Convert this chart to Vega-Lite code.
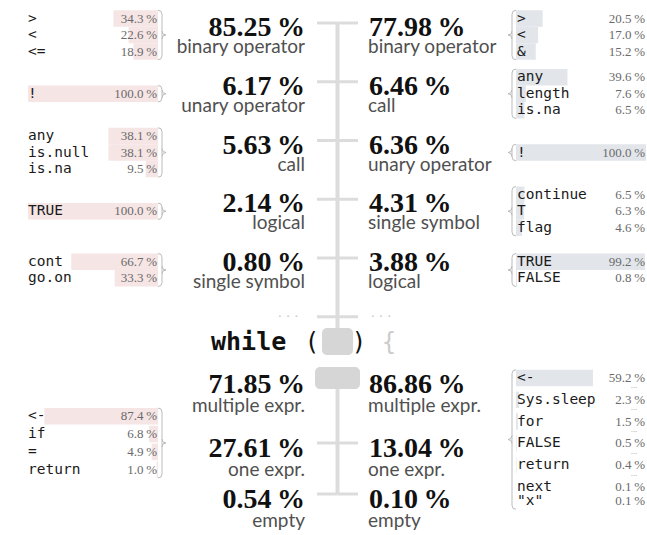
{
  "$schema": "https://vega.github.io/schema/vega-lite/v6.json",
  "width": 647,
  "height": 535,
  "padding": 0,
  "autosize": {"type": "fit", "contains": "padding"},
  "background": "white",
  "config": {"view": {"stroke": null}},
  "data": {
    "values": [
      {"kind": "category", "section": "condition", "side": "left", "rank": 1, "label": "binary operator", "pct": 85.25},
      {"kind": "category", "section": "condition", "side": "left", "rank": 2, "label": "unary operator", "pct": 6.17},
      {"kind": "category", "section": "condition", "side": "left", "rank": 3, "label": "call", "pct": 5.63},
      {"kind": "category", "section": "condition", "side": "left", "rank": 4, "label": "logical", "pct": 2.14},
      {"kind": "category", "section": "condition", "side": "left", "rank": 5, "label": "single symbol", "pct": 0.80},
      {"kind": "category", "section": "condition", "side": "right", "rank": 1, "label": "binary operator", "pct": 77.98},
      {"kind": "category", "section": "condition", "side": "right", "rank": 2, "label": "call", "pct": 6.46},
      {"kind": "category", "section": "condition", "side": "right", "rank": 3, "label": "unary operator", "pct": 6.36},
      {"kind": "category", "section": "condition", "side": "right", "rank": 4, "label": "single symbol", "pct": 4.31},
      {"kind": "category", "section": "condition", "side": "right", "rank": 5, "label": "logical", "pct": 3.88},
      {"kind": "category", "section": "body", "side": "left", "rank": 1, "label": "multiple expr.", "pct": 71.85},
      {"kind": "category", "section": "body", "side": "left", "rank": 2, "label": "one expr.", "pct": 27.61},
      {"kind": "category", "section": "body", "side": "left", "rank": 3, "label": "empty", "pct": 0.54},
      {"kind": "category", "section": "body", "side": "right", "rank": 1, "label": "multiple expr.", "pct": 86.86},
      {"kind": "category", "section": "body", "side": "right", "rank": 2, "label": "one expr.", "pct": 13.04},
      {"kind": "category", "section": "body", "side": "right", "rank": 3, "label": "empty", "pct": 0.10},

      {"kind": "token", "section": "condition", "side": "left", "rank": 1, "item": 1, "label": ">", "pct": 34.3},
      {"kind": "token", "section": "condition", "side": "left", "rank": 1, "item": 2, "label": "<", "pct": 22.6},
      {"kind": "token", "section": "condition", "side": "left", "rank": 1, "item": 3, "label": "<=", "pct": 18.9},
      {"kind": "token", "section": "condition", "side": "left", "rank": 2, "item": 1, "label": "!", "pct": 100.0},
      {"kind": "token", "section": "condition", "side": "left", "rank": 3, "item": 1, "label": "any", "pct": 38.1},
      {"kind": "token", "section": "condition", "side": "left", "rank": 3, "item": 2, "label": "is.null", "pct": 38.1},
      {"kind": "token", "section": "condition", "side": "left", "rank": 3, "item": 3, "label": "is.na", "pct": 9.5},
      {"kind": "token", "section": "condition", "side": "left", "rank": 4, "item": 1, "label": "TRUE", "pct": 100.0},
      {"kind": "token", "section": "condition", "side": "left", "rank": 5, "item": 1, "label": "cont", "pct": 66.7},
      {"kind": "token", "section": "condition", "side": "left", "rank": 5, "item": 2, "label": "go.on", "pct": 33.3},

      {"kind": "token", "section": "condition", "side": "right", "rank": 1, "item": 1, "label": ">", "pct": 20.5},
      {"kind": "token", "section": "condition", "side": "right", "rank": 1, "item": 2, "label": "<", "pct": 17.0},
      {"kind": "token", "section": "condition", "side": "right", "rank": 1, "item": 3, "label": "&", "pct": 15.2},
      {"kind": "token", "section": "condition", "side": "right", "rank": 2, "item": 1, "label": "any", "pct": 39.6},
      {"kind": "token", "section": "condition", "side": "right", "rank": 2, "item": 2, "label": "length", "pct": 7.6},
      {"kind": "token", "section": "condition", "side": "right", "rank": 2, "item": 3, "label": "is.na", "pct": 6.5},
      {"kind": "token", "section": "condition", "side": "right", "rank": 3, "item": 1, "label": "!", "pct": 100.0},
      {"kind": "token", "section": "condition", "side": "right", "rank": 4, "item": 1, "label": "continue", "pct": 6.5},
      {"kind": "token", "section": "condition", "side": "right", "rank": 4, "item": 2, "label": "T", "pct": 6.3},
      {"kind": "token", "section": "condition", "side": "right", "rank": 4, "item": 3, "label": "flag", "pct": 4.6},
      {"kind": "token", "section": "condition", "side": "right", "rank": 5, "item": 1, "label": "TRUE", "pct": 99.2},
      {"kind": "token", "section": "condition", "side": "right", "rank": 5, "item": 2, "label": "FALSE", "pct": 0.8},

      {"kind": "token", "section": "body", "side": "left", "rank": 2, "item": 1, "label": "<-", "pct": 87.4},
      {"kind": "token", "section": "body", "side": "left", "rank": 2, "item": 2, "label": "if", "pct": 6.8},
      {"kind": "token", "section": "body", "side": "left", "rank": 2, "item": 3, "label": "=", "pct": 4.9},
      {"kind": "token", "section": "body", "side": "left", "rank": 2, "item": 4, "label": "return", "pct": 1.0},

      {"kind": "token", "section": "body", "side": "right", "rank": 1, "item": 1, "label": "<-", "pct": 59.2, "gapBefore": false},
      {"kind": "token", "section": "body", "side": "right", "rank": 1, "item": 2, "label": "Sys.sleep", "pct": 2.3, "gapBefore": true},
      {"kind": "token", "section": "body", "side": "right", "rank": 1, "item": 3, "label": "for", "pct": 1.5, "gapBefore": true},
      {"kind": "token", "section": "body", "side": "right", "rank": 1, "item": 4, "label": "FALSE", "pct": 0.5, "gapBefore": true},
      {"kind": "token", "section": "body", "side": "right", "rank": 1, "item": 5, "label": "return", "pct": 0.4, "gapBefore": true},
      {"kind": "token", "section": "body", "side": "right", "rank": 1, "item": 6, "label": "next", "pct": 0.1, "gapBefore": true},
      {"kind": "token", "section": "body", "side": "right", "rank": 1, "item": 7, "label": "\"x\"", "pct": 0.1, "gapBefore": false}
    ]
  },
  "transform": [
    {"calculate": "datum.section == 'condition' ? 36 + (datum.rank - 1) * 58.75 : (datum.rank == 1 ? 393 : datum.rank == 2 ? 457 : 508)", "as": "base"},
    {"calculate": "datum.item == 1 ? 0 : datum.section == 'condition' ? 16.5 : datum.side == 'left' ? 17.8 : (datum.gapBefore ? 21.8 : 14)", "as": "step"},
    {"window": [{"op": "sum", "field": "step", "as": "cum"}], "groupby": ["kind", "section", "side", "rank"], "sort": [{"field": "item", "order": "ascending"}], "frame": [null, 0]},
    {"joinaggregate": [{"op": "sum", "field": "step", "as": "tot"}], "groupby": ["kind", "section", "side", "rank"]},
    {"calculate": "(datum.section == 'condition' ? datum.base - 1 : datum.side == 'left' ? datum.base - 14 : datum.base + 46.5) - datum.tot / 2 + datum.cum", "as": "itemY"},
    {"calculate": "datum.base - (datum.section == 'condition' ? 13 : 14)", "as": "tickY"},
    {"calculate": "datum.base + (datum.section == 'condition' ? 17 : 19)", "as": "labY"},
    {"calculate": "datum.itemY - 8.25", "as": "barY0"},
    {"calculate": "datum.itemY + 8.25", "as": "barY1"},
    {"calculate": "datum.itemY - 11.5", "as": "dotY"},
    {"calculate": "datum.side == 'left' ? 158 - datum.pct * 1.3 : 516", "as": "bx0"},
    {"calculate": "datum.side == 'left' ? 158 : 516 + datum.pct * 1.3", "as": "bx1"},
    {"calculate": "datum.kind == 'category' ? format(datum.pct, '.2f') + '\u2009%' : format(datum.pct, '.1f') + '\u2009%'", "as": "pctText"}
  ],
  "layer": [
    {
      "transform": [{"filter": "datum.kind == 'category' && datum.section == 'condition'"}, {"aggregate": [{"op": "min", "field": "tickY", "as": "y0"}]}],
      "mark": {"type": "rule", "color": "#dcdcdc", "strokeWidth": 4},
      "encoding": {
        "x": {"datum": 337.5, "type": "quantitative", "scale": {"domain": [0, 647], "nice": false, "zero": false}, "axis": null},
        "y": {"field": "y0", "type": "quantitative", "scale": {"domain": [0, 535], "nice": false, "zero": false, "reverse": true}, "axis": null},
        "y2": {"datum": 328}
      }
    },
    {
      "transform": [{"filter": "datum.kind == 'category' && datum.section == 'body'"}, {"aggregate": [{"op": "max", "field": "tickY", "as": "y1"}]}],
      "mark": {"type": "rule", "color": "#dcdcdc", "strokeWidth": 4},
      "encoding": {
        "x": {"datum": 337.5, "type": "quantitative", "scale": {"domain": [0, 647], "nice": false, "zero": false}, "axis": null},
        "y": {"field": "y1", "type": "quantitative", "scale": {"domain": [0, 535], "nice": false, "zero": false, "reverse": true}, "axis": null},
        "y2": {"datum": 389}
      }
    },
    {
      "transform": [{"filter": "datum.kind == 'category'"}, {"calculate": "datum.side == 'left' ? 317 : 358", "as": "tx2"}],
      "mark": {"type": "rule", "color": "#dcdcdc", "strokeWidth": 3},
      "encoding": {
        "x": {"field": "tx2", "type": "quantitative", "scale": {"domain": [0, 647], "nice": false, "zero": false}, "axis": null},
        "x2": {"datum": 337.5},
        "y": {"field": "tickY", "type": "quantitative", "scale": {"domain": [0, 535], "nice": false, "zero": false, "reverse": true}, "axis": null}
      }
    },
    {
      "transform": [{"filter": "datum.kind == 'category' && datum.section == 'condition'"}, {"aggregate": [{"op": "max", "field": "tickY", "as": "m"}]}, {"calculate": "datum.m + 58.75", "as": "dy"}],
      "mark": {"type": "rule", "color": "#dcdcdc", "strokeWidth": 3},
      "encoding": {
        "x": {"datum": 317, "type": "quantitative", "scale": {"domain": [0, 647], "nice": false, "zero": false}, "axis": null},
        "x2": {"datum": 358},
        "y": {"field": "dy", "type": "quantitative", "scale": {"domain": [0, 535], "nice": false, "zero": false, "reverse": true}, "axis": null}
      }
    },
    {
      "transform": [{"filter": "datum.kind == 'category' && datum.section == 'condition'"}, {"aggregate": [{"op": "max", "field": "tickY", "as": "m"}]}, {"calculate": "datum.m + 58.75", "as": "dy"}],
      "mark": {"type": "text", "text": "· · ·", "font": "DejaVu Sans", "fontSize": 13, "color": "#c4c4c4", "align": "center", "baseline": "middle"},
      "encoding": {
        "x": {"datum": 288, "type": "quantitative", "scale": {"domain": [0, 647], "nice": false, "zero": false}, "axis": null},
        "y": {"field": "dy", "type": "quantitative", "scale": {"domain": [0, 535], "nice": false, "zero": false, "reverse": true}, "axis": null}
      }
    },
    {
      "transform": [{"filter": "datum.kind == 'category' && datum.section == 'condition'"}, {"aggregate": [{"op": "max", "field": "tickY", "as": "m"}]}, {"calculate": "datum.m + 58.75", "as": "dy"}],
      "mark": {"type": "text", "text": "· · ·", "font": "DejaVu Sans", "fontSize": 13, "color": "#c4c4c4", "align": "center", "baseline": "middle"},
      "encoding": {
        "x": {"datum": 381, "type": "quantitative", "scale": {"domain": [0, 647], "nice": false, "zero": false}, "axis": null},
        "y": {"field": "dy", "type": "quantitative", "scale": {"domain": [0, 535], "nice": false, "zero": false, "reverse": true}, "axis": null}
      }
    },
    {
      "transform": [{"aggregate": [{"op": "count", "as": "n"}]}],
      "mark": {"type": "rect", "color": "#d6d6d6", "cornerRadius": 5},
      "encoding": {
        "x": {"datum": 322, "type": "quantitative", "scale": {"domain": [0, 647], "nice": false, "zero": false}, "axis": null},
        "x2": {"datum": 353},
        "y": {"datum": 328, "type": "quantitative", "scale": {"domain": [0, 535], "nice": false, "zero": false, "reverse": true}, "axis": null},
        "y2": {"datum": 355}
      }
    },
    {
      "transform": [{"aggregate": [{"op": "count", "as": "n"}]}],
      "mark": {"type": "rect", "color": "#d6d6d6", "cornerRadius": 5},
      "encoding": {
        "x": {"datum": 315, "type": "quantitative", "scale": {"domain": [0, 647], "nice": false, "zero": false}, "axis": null},
        "x2": {"datum": 360},
        "y": {"datum": 367, "type": "quantitative", "scale": {"domain": [0, 535], "nice": false, "zero": false, "reverse": true}, "axis": null},
        "y2": {"datum": 389}
      }
    },
    {
      "transform": [{"aggregate": [{"op": "count", "as": "n"}]}],
      "mark": {"type": "text", "text": "while", "font": "DejaVu Sans Mono", "fontWeight": "bold", "fontSize": 25, "color": "#111111", "align": "left", "baseline": "alphabetic"},
      "encoding": {
        "x": {"datum": 211, "type": "quantitative", "scale": {"domain": [0, 647], "nice": false, "zero": false}, "axis": null},
        "y": {"datum": 350, "type": "quantitative", "scale": {"domain": [0, 535], "nice": false, "zero": false, "reverse": true}, "axis": null}
      }
    },
    {
      "transform": [{"aggregate": [{"op": "count", "as": "n"}]}],
      "mark": {"type": "text", "text": "(", "font": "DejaVu Sans Mono", "fontSize": 24, "color": "#111111", "align": "center", "baseline": "alphabetic"},
      "encoding": {
        "x": {"datum": 312, "type": "quantitative", "scale": {"domain": [0, 647], "nice": false, "zero": false}, "axis": null},
        "y": {"datum": 350, "type": "quantitative", "scale": {"domain": [0, 535], "nice": false, "zero": false, "reverse": true}, "axis": null}
      }
    },
    {
      "transform": [{"aggregate": [{"op": "count", "as": "n"}]}],
      "mark": {"type": "text", "text": ")", "font": "DejaVu Sans Mono", "fontSize": 24, "color": "#111111", "align": "center", "baseline": "alphabetic"},
      "encoding": {
        "x": {"datum": 359, "type": "quantitative", "scale": {"domain": [0, 647], "nice": false, "zero": false}, "axis": null},
        "y": {"datum": 350, "type": "quantitative", "scale": {"domain": [0, 535], "nice": false, "zero": false, "reverse": true}, "axis": null}
      }
    },
    {
      "transform": [{"aggregate": [{"op": "count", "as": "n"}]}],
      "mark": {"type": "text", "text": "{", "font": "DejaVu Sans Mono", "fontSize": 24, "color": "#cccccc", "align": "center", "baseline": "alphabetic"},
      "encoding": {
        "x": {"datum": 389, "type": "quantitative", "scale": {"domain": [0, 647], "nice": false, "zero": false}, "axis": null},
        "y": {"datum": 350, "type": "quantitative", "scale": {"domain": [0, 535], "nice": false, "zero": false, "reverse": true}, "axis": null}
      }
    },
    {
      "transform": [{"filter": "datum.kind == 'token' && datum.side == 'left'"}],
      "mark": {"type": "rect", "color": "#f6e5e5"},
      "encoding": {
        "x": {"field": "bx0", "type": "quantitative", "scale": {"domain": [0, 647], "nice": false, "zero": false}, "axis": null},
        "x2": {"field": "bx1"},
        "y": {"field": "barY0", "type": "quantitative", "scale": {"domain": [0, 535], "nice": false, "zero": false, "reverse": true}, "axis": null},
        "y2": {"field": "barY1"}
      }
    },
    {
      "transform": [{"filter": "datum.kind == 'token' && datum.side == 'right'"}],
      "mark": {"type": "rect", "color": "#e2e6ea"},
      "encoding": {
        "x": {"field": "bx0", "type": "quantitative", "scale": {"domain": [0, 647], "nice": false, "zero": false}, "axis": null},
        "x2": {"field": "bx1"},
        "y": {"field": "barY0", "type": "quantitative", "scale": {"domain": [0, 535], "nice": false, "zero": false, "reverse": true}, "axis": null},
        "y2": {"field": "barY1"}
      }
    },
    {
      "transform": [{"filter": "datum.kind == 'token' && datum.side == 'left'"}],
      "mark": {"type": "text", "font": "DejaVu Sans Mono", "fontSize": 14.5, "color": "#1a1a1a", "align": "left", "baseline": "middle"},
      "encoding": {
        "x": {"datum": 28, "type": "quantitative", "scale": {"domain": [0, 647], "nice": false, "zero": false}, "axis": null},
        "y": {"field": "itemY", "type": "quantitative", "scale": {"domain": [0, 535], "nice": false, "zero": false, "reverse": true}, "axis": null},
        "text": {"field": "label", "type": "nominal"}
      }
    },
    {
      "transform": [{"filter": "datum.kind == 'token' && datum.side == 'right'"}],
      "mark": {"type": "text", "font": "DejaVu Sans Mono", "fontSize": 14.5, "color": "#1a1a1a", "align": "left", "baseline": "middle"},
      "encoding": {
        "x": {"datum": 517, "type": "quantitative", "scale": {"domain": [0, 647], "nice": false, "zero": false}, "axis": null},
        "y": {"field": "itemY", "type": "quantitative", "scale": {"domain": [0, 535], "nice": false, "zero": false, "reverse": true}, "axis": null},
        "text": {"field": "label", "type": "nominal"}
      }
    },
    {
      "transform": [{"filter": "datum.kind == 'token' && datum.side == 'left'"}],
      "mark": {"type": "text", "font": "Liberation Serif", "fontSize": 13, "color": "#6a6a6a", "align": "right", "baseline": "middle"},
      "encoding": {
        "x": {"datum": 157, "type": "quantitative", "scale": {"domain": [0, 647], "nice": false, "zero": false}, "axis": null},
        "y": {"field": "itemY", "type": "quantitative", "scale": {"domain": [0, 535], "nice": false, "zero": false, "reverse": true}, "axis": null},
        "text": {"field": "pctText", "type": "nominal"}
      }
    },
    {
      "transform": [{"filter": "datum.kind == 'token' && datum.side == 'right'"}],
      "mark": {"type": "text", "font": "Liberation Serif", "fontSize": 13, "color": "#6a6a6a", "align": "right", "baseline": "middle"},
      "encoding": {
        "x": {"datum": 645, "type": "quantitative", "scale": {"domain": [0, 647], "nice": false, "zero": false}, "axis": null},
        "y": {"field": "itemY", "type": "quantitative", "scale": {"domain": [0, 535], "nice": false, "zero": false, "reverse": true}, "axis": null},
        "text": {"field": "pctText", "type": "nominal"}
      }
    },
    {
      "transform": [{"filter": "datum.kind == 'token' && datum.gapBefore"}],
      "mark": {"type": "text", "text": "···", "font": "DejaVu Sans", "fontSize": 7, "color": "#9a9a9a", "align": "center", "baseline": "middle"},
      "encoding": {
        "x": {"datum": 634, "type": "quantitative", "scale": {"domain": [0, 647], "nice": false, "zero": false}, "axis": null},
        "y": {"field": "dotY", "type": "quantitative", "scale": {"domain": [0, 535], "nice": false, "zero": false, "reverse": true}, "axis": null}
      }
    },
    {
      "transform": [{"filter": "datum.kind == 'category' && datum.side == 'left'"}],
      "mark": {"type": "text", "font": "Liberation Serif", "fontWeight": "bold", "fontSize": 28, "color": "#111111", "align": "right", "baseline": "alphabetic"},
      "encoding": {
        "x": {"datum": 305, "type": "quantitative", "scale": {"domain": [0, 647], "nice": false, "zero": false}, "axis": null},
        "y": {"field": "base", "type": "quantitative", "scale": {"domain": [0, 535], "nice": false, "zero": false, "reverse": true}, "axis": null},
        "text": {"field": "pctText", "type": "nominal"}
      }
    },
    {
      "transform": [{"filter": "datum.kind == 'category' && datum.side == 'right'"}],
      "mark": {"type": "text", "font": "Liberation Serif", "fontWeight": "bold", "fontSize": 28, "color": "#111111", "align": "left", "baseline": "alphabetic"},
      "encoding": {
        "x": {"datum": 369, "type": "quantitative", "scale": {"domain": [0, 647], "nice": false, "zero": false}, "axis": null},
        "y": {"field": "base", "type": "quantitative", "scale": {"domain": [0, 535], "nice": false, "zero": false, "reverse": true}, "axis": null},
        "text": {"field": "pctText", "type": "nominal"}
      }
    },
    {
      "transform": [{"filter": "datum.kind == 'category' && datum.side == 'left'"}],
      "mark": {"type": "text", "font": "Lato", "fontSize": 19, "color": "#505050", "align": "right", "baseline": "alphabetic"},
      "encoding": {
        "x": {"datum": 305, "type": "quantitative", "scale": {"domain": [0, 647], "nice": false, "zero": false}, "axis": null},
        "y": {"field": "labY", "type": "quantitative", "scale": {"domain": [0, 535], "nice": false, "zero": false, "reverse": true}, "axis": null},
        "text": {"field": "label", "type": "nominal"}
      }
    },
    {
      "transform": [{"filter": "datum.kind == 'category' && datum.side == 'right'"}],
      "mark": {"type": "text", "font": "Lato", "fontSize": 19, "color": "#505050", "align": "left", "baseline": "alphabetic"},
      "encoding": {
        "x": {"datum": 368, "type": "quantitative", "scale": {"domain": [0, 647], "nice": false, "zero": false}, "axis": null},
        "y": {"field": "labY", "type": "quantitative", "scale": {"domain": [0, 535], "nice": false, "zero": false, "reverse": true}, "axis": null},
        "text": {"field": "label", "type": "nominal"}
      }
    },
    {
      "transform": [{"filter": "datum.kind == 'token' && datum.side == 'left'"}, {"aggregate": [{"op": "min", "field": "itemY", "as": "lo"}, {"op": "max", "field": "itemY", "as": "hi"}], "groupby": ["section", "rank"]}, {"calculate": "datum.lo - 4.25", "as": "r0"}, {"calculate": "datum.hi + 4.25", "as": "r1"}],
      "mark": {"type": "rule", "color": "#bbbbbb", "strokeWidth": 1},
      "encoding": {
        "x": {"datum": 162, "type": "quantitative", "scale": {"domain": [0, 647], "nice": false, "zero": false}, "axis": null},
        "y": {"field": "r0", "type": "quantitative", "scale": {"domain": [0, 535], "nice": false, "zero": false, "reverse": true}, "axis": null},
        "y2": {"field": "r1"}
      }
    },
    {
      "transform": [{"filter": "datum.kind == 'token' && datum.side == 'right'"}, {"aggregate": [{"op": "min", "field": "itemY", "as": "lo"}, {"op": "max", "field": "itemY", "as": "hi"}], "groupby": ["section", "rank"]}, {"calculate": "datum.lo - 4.25", "as": "r0"}, {"calculate": "datum.hi + 4.25", "as": "r1"}],
      "mark": {"type": "rule", "color": "#bbbbbb", "strokeWidth": 1},
      "encoding": {
        "x": {"datum": 512, "type": "quantitative", "scale": {"domain": [0, 647], "nice": false, "zero": false}, "axis": null},
        "y": {"field": "r0", "type": "quantitative", "scale": {"domain": [0, 535], "nice": false, "zero": false, "reverse": true}, "axis": null},
        "y2": {"field": "r1"}
      }
    },
    {
      "transform": [{"filter": "datum.kind == 'token' && datum.side == 'left'"}, {"aggregate": [{"op": "min", "field": "itemY", "as": "lo"}, {"op": "max", "field": "itemY", "as": "hi"}], "groupby": ["section", "rank"]}, {"calculate": "datum.lo - 8.25", "as": "lt"}, {"calculate": "(datum.lo + datum.hi) / 2", "as": "lm"}, {"calculate": "datum.hi + 8.25", "as": "lb"}, {"fold": ["lt", "lm", "lb"], "as": ["part", "py"]}],
      "mark": {"type": "point", "filled": false, "size": 4, "color": "#bbbbbb", "strokeWidth": 1, "opacity": 1},
      "encoding": {
        "x": {"datum": 162, "type": "quantitative", "scale": {"domain": [0, 647], "nice": false, "zero": false}, "axis": null},
        "y": {"field": "py", "type": "quantitative", "scale": {"domain": [0, 535], "nice": false, "zero": false, "reverse": true}, "axis": null},
        "shape": {"field": "part", "type": "nominal", "legend": null, "scale": {"domain": ["lt", "lm", "lb", "rt", "rm", "rb"], "range": ["M -4 0 Q 0 0 0 4", "M 0 -4 Q 0 0 4 0 Q 0 0 0 4", "M -4 0 Q 0 0 0 -4", "M 4 0 Q 0 0 0 4", "M 0 -4 Q 0 0 -4 0 Q 0 0 0 4", "M 4 0 Q 0 0 0 -4"]}}
      }
    },
    {
      "transform": [{"filter": "datum.kind == 'token' && datum.side == 'right'"}, {"aggregate": [{"op": "min", "field": "itemY", "as": "lo"}, {"op": "max", "field": "itemY", "as": "hi"}], "groupby": ["section", "rank"]}, {"calculate": "datum.lo - 8.25", "as": "rt"}, {"calculate": "(datum.lo + datum.hi) / 2", "as": "rm"}, {"calculate": "datum.hi + 8.25", "as": "rb"}, {"fold": ["rt", "rm", "rb"], "as": ["part", "py"]}],
      "mark": {"type": "point", "filled": false, "size": 4, "color": "#bbbbbb", "strokeWidth": 1, "opacity": 1},
      "encoding": {
        "x": {"datum": 512, "type": "quantitative", "scale": {"domain": [0, 647], "nice": false, "zero": false}, "axis": null},
        "y": {"field": "py", "type": "quantitative", "scale": {"domain": [0, 535], "nice": false, "zero": false, "reverse": true}, "axis": null},
        "shape": {"field": "part", "type": "nominal", "legend": null, "scale": {"domain": ["lt", "lm", "lb", "rt", "rm", "rb"], "range": ["M -4 0 Q 0 0 0 4", "M 0 -4 Q 0 0 4 0 Q 0 0 0 4", "M -4 0 Q 0 0 0 -4", "M 4 0 Q 0 0 0 4", "M 0 -4 Q 0 0 -4 0 Q 0 0 0 4", "M 4 0 Q 0 0 0 -4"]}}
      }
    }
  ]
}
